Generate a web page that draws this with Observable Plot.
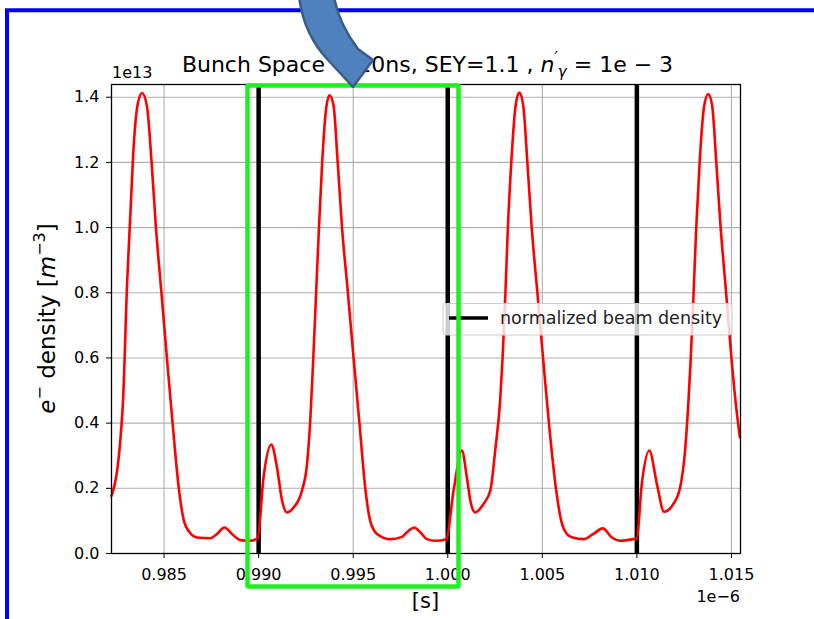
<!DOCTYPE html>
<html><head><meta charset="utf-8">
<script src="https://cdn.jsdelivr.net/npm/d3@7"></script>
<script src="https://cdn.jsdelivr.net/npm/@observablehq/plot@0.6"></script>
<style>
body{margin:0;background:#fff;}
#chart{position:relative;width:814px;height:619px;overflow:hidden;}
#chart svg{display:block;}
</style>
</head><body><div id="chart"></div>
<script>
// time in units of 1e-6 s, density in units of 1e13 m^-3
const timeUs = [
  0.98222, 0.98240, 0.98252, 0.98269, 0.98283, 0.98305, 0.98322, 0.98339, 0.98361, 0.98384,
  0.98410, 0.98434, 0.98457, 0.98486, 0.98515, 0.98545, 0.98578, 0.98605, 0.98635, 0.98674,
  0.98745, 0.98780, 0.98819, 0.98859, 0.98903, 0.98956, 0.98995,
  0.99026, 0.99067, 0.99097, 0.99124, 0.99150, 0.99185, 0.99229, 0.99256, 0.99273, 0.99289,
  0.99304, 0.99319, 0.99336, 0.99358, 0.99375, 0.99396, 0.99418, 0.99441, 0.99472, 0.99502,
  0.99533, 0.99564, 0.99590, 0.99626, 0.99696, 0.99758, 0.99793, 0.99823, 0.99855, 0.99890,
  0.99934, 0.99992,
  1.00031, 1.00075, 1.00101, 1.00123, 1.00145, 1.00189, 1.00225, 1.00251, 1.00277, 1.00290,
  1.00305, 1.00318, 1.00336, 1.00358, 1.00378, 1.00399, 1.00421, 1.00444, 1.00474, 1.00504,
  1.00535, 1.00572, 1.00600, 1.00630, 1.00660, 1.00718, 1.00770, 1.00820, 1.00868, 1.00912,
  1.00982, 1.00999,
  1.01026, 1.01066, 1.01106, 1.01144, 1.01193, 1.01229, 1.01255, 1.01273, 1.01285, 1.01300,
  1.01314, 1.01332, 1.01355, 1.01377, 1.01398, 1.01420, 1.01443, 1.01472, 1.01500, 1.01525,
  1.01545
];
const densityE13 = [
  0.177, 0.215, 0.255, 0.350, 0.469, 0.837, 1.043, 1.247, 1.380, 1.413,
  1.370, 1.200, 1.000, 0.800, 0.600, 0.400, 0.200, 0.100, 0.065, 0.049,
  0.047, 0.060, 0.080, 0.060, 0.041, 0.039, 0.047,
  0.234, 0.334, 0.264, 0.162, 0.126, 0.141, 0.193, 0.275, 0.408, 0.600,
  0.800, 1.000, 1.200, 1.370, 1.406, 1.375, 1.200, 1.000, 0.800, 0.600,
  0.400, 0.200, 0.100, 0.060, 0.044, 0.051, 0.070, 0.080, 0.065, 0.044,
  0.039, 0.044,
  0.193, 0.316, 0.234, 0.152, 0.126, 0.152, 0.193, 0.316, 0.469, 0.600,
  0.800, 1.000, 1.200, 1.370, 1.414, 1.375, 1.200, 1.000, 0.800, 0.600,
  0.400, 0.200, 0.100, 0.060, 0.049, 0.044, 0.060, 0.077, 0.049, 0.039,
  0.044, 0.045,
  0.213, 0.316, 0.213, 0.128, 0.152, 0.203, 0.316, 0.469, 0.600, 0.800,
  1.000, 1.200, 1.370, 1.410, 1.375, 1.200, 1.000, 0.800, 0.600, 0.450,
  0.356
];
const bunchTimes = [0.990, 1.000, 1.010];
const xTicks = [0.985, 0.990, 0.995, 1.000, 1.005, 1.010, 1.015];
const yTicks = [0, 0.2, 0.4, 0.6, 0.8, 1.0, 1.2, 1.4];
const legendLabel = "normalized beam density";
const xOffsetLabel = "1e\u22126";
const yOffsetLabel = "1e13";
const xLabel = "[s]";

const rows = timeUs.map((t, i) => ({t, v: densityE13[i]}));

const chart = Plot.plot({
  width: 814, height: 619,
  marginLeft: 111, marginRight: 74, marginTop: 84, marginBottom: 66,
  style: {fontFamily: "'DejaVu Sans', sans-serif", fontSize: "16px", color: "#000", background: "#fff"},
  x: {domain: [0.98222, 1.01548], ticks: xTicks, tickFormat: d3.format(".3f"), tickSize: 5, tickPadding: 10, label: null},
  y: {domain: [0, 1.439], ticks: yTicks, tickFormat: d3.format(".1f"), tickSize: 5, tickPadding: 7, label: null},
  marks: [
    Plot.ruleX(xTicks, {stroke: "#b0b0b0", strokeWidth: 1.1}),
    Plot.ruleY(yTicks, {stroke: "#b0b0b0", strokeWidth: 1.1}),
    Plot.ruleX(bunchTimes, {stroke: "#000", strokeWidth: 4.5}),
    Plot.line(rows, {x: "t", y: "v", stroke: "#ff0000", strokeWidth: 2.6, curve: "monotone-x"}),
    Plot.frame({stroke: "#000", strokeWidth: 1.3})
  ]
});
document.getElementById("chart").appendChild(chart);

const sx = chart.scale("x"), sy = chart.scale("y");
const [x0, x1] = sx.range;
const yTop = Math.min(...sy.range), yBot = Math.max(...sy.range);
const cx = (x0 + x1) / 2, cy = (yTop + yBot) / 2;
const svg = d3.select(chart);
const FF = "'DejaVu Sans', sans-serif";

// legend
const lg = svg.append("g");
lg.append("rect").attr("x", 443).attr("y", 303.5).attr("width", 289).attr("height", 31.5).attr("rx", 3)
  .attr("fill", "#fff").attr("fill-opacity", 0.8).attr("stroke", "#cccccc").attr("stroke-width", 1);
lg.append("line").attr("x1", 449).attr("x2", 488).attr("y1", 318).attr("y2", 318).attr("stroke", "#000").attr("stroke-width", 3.5);
lg.append("text").attr("x", 500).attr("y", 324).attr("text-anchor", "start")
  .style("font-family", FF).style("font-size", "17.5px").attr("fill", "#222").text(legendLabel);

// offset labels
svg.append("text").attr("x", x0 + 1).attr("y", yTop - 6).attr("text-anchor", "start")
  .style("font-family", FF).style("font-size", "16px").text(yOffsetLabel);
svg.append("text").attr("x", x1).attr("y", 602).attr("text-anchor", "end")
  .style("font-family", FF).style("font-size", "16px").text(xOffsetLabel);

// axis labels
svg.append("text").attr("x", cx).attr("y", 608).attr("text-anchor", "middle")
  .style("font-family", FF).style("font-size", "21px").text(xLabel);
const yl = svg.append("text").attr("transform", `translate(55,${cy}) rotate(-90)`).attr("text-anchor", "middle")
  .style("font-family", FF).style("font-size", "23px");
yl.append("tspan").attr("font-style", "italic").text("e");
yl.append("tspan").attr("font-size", "16px").attr("dy", -10).text("\u2212");
yl.append("tspan").attr("dy", 10).text(" density [");
yl.append("tspan").attr("font-style", "italic").text("m");
yl.append("tspan").attr("font-size", "16px").attr("dy", -10).text("\u22123");
yl.append("tspan").attr("dy", 10).text("]");

// title
const tt = svg.append("text").attr("x", cx + 2).attr("y", 72).attr("text-anchor", "middle")
  .style("font-family", FF).style("font-size", "22px");
tt.append("tspan").text("Bunch Space = 10ns, SEY=1.1 , ");
tt.append("tspan").attr("font-style", "italic").text("n");
tt.append("tspan").attr("font-size", "15px").attr("dy", -9).text("\u2032");
tt.append("tspan").attr("font-size", "15px").attr("font-style", "italic").attr("dy", 14).text("\u03b3");
tt.append("tspan").attr("dy", -5).text(" = 1e \u2212 3");

// slide annotations: blue frame, green box, arrow
const ov = svg.append("g");
ov.append("path").attr("d", "M5,10.3 H814 M7,8.3 V619").attr("stroke", "#0000ff").attr("stroke-width", 4).attr("fill", "none");
ov.append("rect").attr("x", 247.5).attr("y", 85.5).attr("width", 211).attr("height", 501).attr("rx", 1)
  .attr("fill", "none").attr("stroke", "#1ef01e").attr("stroke-width", 4.5);
ov.append("path").attr("d", "M299,-4 C302,22 311,42 328,60 L353,87 L373,60 L358,49 C346,33 337,17 334,-4 Z")
  .attr("fill", "#4f81bd").attr("stroke", "#385d8a").attr("stroke-width", 2.5).attr("stroke-linejoin", "round");
</script>
</body></html>
